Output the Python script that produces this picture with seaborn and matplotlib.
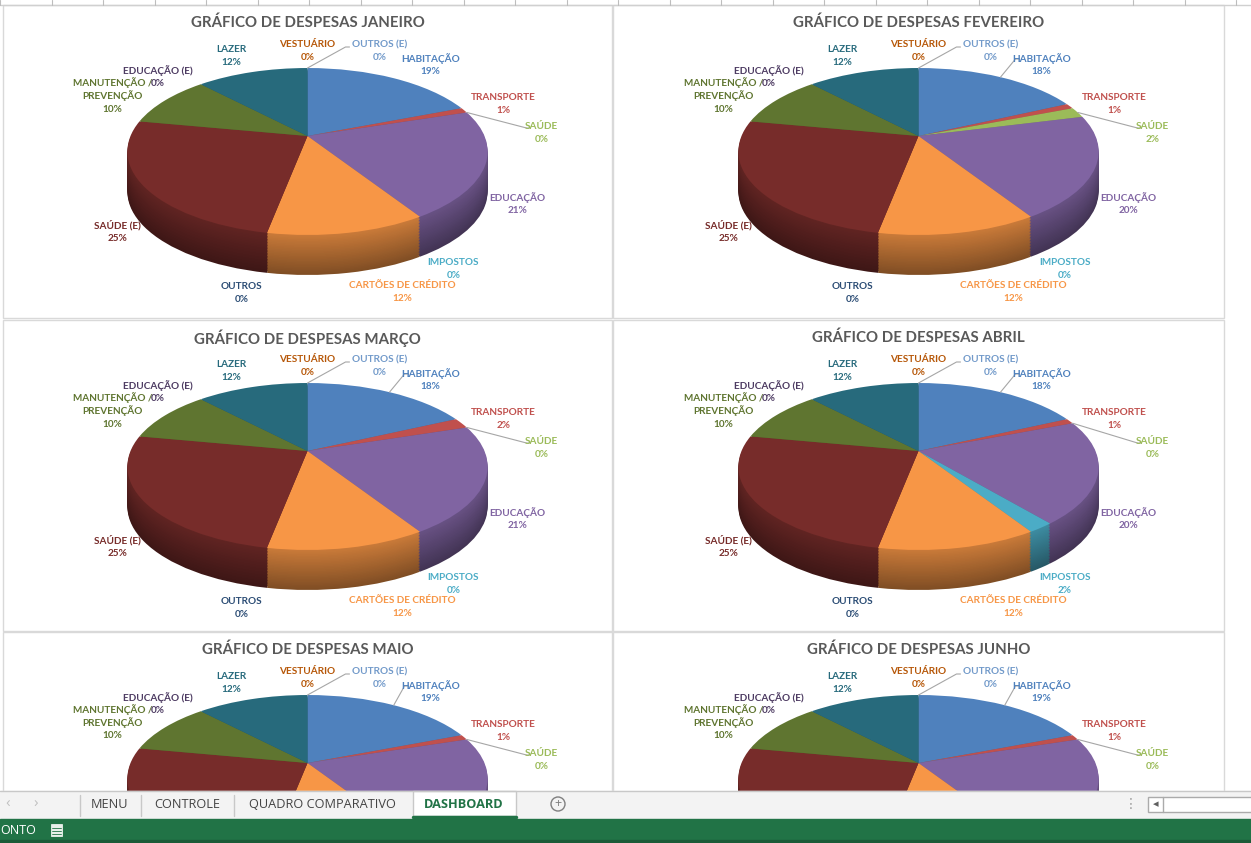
import numpy as np
import pandas as pd
import seaborn as sns
import matplotlib
matplotlib.use("Agg")
import matplotlib.pyplot as plt
from matplotlib import font_manager
from matplotlib.patches import Rectangle, Circle
from matplotlib.transforms import Transform, Affine2D

categorias = ["HABITAÇÃO", "TRANSPORTE", "SAÚDE", "EDUCAÇÃO", "IMPOSTOS",
              "CARTÕES DE CRÉDITO", "OUTROS", "SAÚDE (E)", "MANUTENÇÃO / PREVENÇÃO",
              "EDUCAÇÃO (E)", "LAZER", "VESTUÁRIO", "OUTROS (E)"]
meses = ["JANEIRO", "FEVEREIRO", "MARÇO", "ABRIL", "MAIO", "JUNHO"]
pct_jan = [19, 1, 0, 21, 0, 12, 0, 25, 10, 0, 12, 0, 0]
pct_fev = [18, 1, 2, 20, 0, 12, 0, 25, 10, 0, 12, 0, 0]
pct_mar = [18, 2, 0, 21, 0, 12, 0, 25, 10, 0, 12, 0, 0]
pct_abr = [18, 1, 0, 20, 2, 12, 0, 25, 10, 0, 12, 0, 0]
pct_mai = [19, 1, 0, 21, 0, 12, 0, 25, 10, 0, 12, 0, 0]
pct_jun = [19, 1, 0, 21, 0, 12, 0, 25, 10, 0, 12, 0, 0]
abas = ["MENU", "CONTROLE", "QUADRO COMPARATIVO", "DASHBOARD"]

cores = ["#4F81BD", "#C0504D", "#9BBB59", "#8064A2", "#4BACC6", "#F79646",
         "#2C4D75", "#772C2A", "#5F7530", "#4D3B62", "#276A7C", "#B65708", "#729ACA"]

W, H = 1251, 843
Y_ABAS = 791

sns.set_theme(style="white")
disp = {f.name for f in font_manager.fontManager.ttflist}


def pick(*nomes):
    for n in nomes:
        if n in disp:
            return n
    return "DejaVu Sans"


FONTE = pick("Liberation Sans Narrow", "Lato", "Roboto")
FONTE_UI = pick("Open Sans", "Noto Sans", "DejaVu Sans")
plt.rcParams["font.family"] = [FONTE, "DejaVu Sans"]


class Tilt(Transform):
    # pizza "3D": disco inclinado com um pouco de perspectiva
    input_dims = output_dims = 2
    is_separable = False
    has_inverse = False

    def __init__(self, rx, ry, k):
        super().__init__()
        self.rx, self.ry, self.k = rx, ry, k

    def transform_non_affine(self, values):
        v = np.asarray(values, dtype=float)
        w = 1 + self.k * v[:, 1]
        return np.column_stack([self.rx * v[:, 0] / w, self.ry * v[:, 1] / w])


tilt = Tilt(177, 80.6, 0.1856)
PROF = 40
N_CAMADAS = 26
ENTRELINHA = 13

# posicao dos rotulos em pixels em relacao ao centro da pizza (x, y para baixo)
pos_rotulo = {
    "HABITAÇÃO": (123, -71), "TRANSPORTE": (196, -32), "SAÚDE": (234, -3),
    "EDUCAÇÃO": (210, 68), "IMPOSTOS": (146, 133), "CARTÕES DE CRÉDITO": (95, 156),
    "OUTROS": (-66, 157), "SAÚDE (E)": (-190, 96), "MANUTENÇÃO / PREVENÇÃO": (-195, -40),
    "EDUCAÇÃO (E)": (-150, -59), "LAZER": (-76, -80), "VESTUÁRIO": (0, -85),
    "OUTROS (E)": (72, -85),
}
fim_linha = {"OUTROS (E)": (38, -89), "SAÚDE": (219, -8), "HABITAÇÃO": (97, -77)}


def ponto_fatia(valores, idx):
    v = np.asarray(valores, dtype=float)
    ini = v[:idx].sum() / v.sum() * 360
    meio = ini + v[idx] / v.sum() * 180
    a = np.deg2rad(90 - meio)
    return tilt.transform(np.array([[np.cos(a), np.sin(a)]]))[0]


def desenha_pizza(fig, caixa, mes, valores, n):
    x0, x1, y0, y1 = caixa
    ax = fig.add_axes([x0 / W, 1 - y1 / H, (x1 - x0) / W, (y1 - y0) / H])
    cx = (x0 + x1) / 2
    cy = y0 + 131
    df = pd.DataFrame({"cat": categorias, "pct": valores})
    base = np.array(sns.color_palette(cores))

    for i in range(N_CAMADAS, 0, -1):
        f = 0.52 + 0.3 * (1 - i / N_CAMADAS)
        lado = [tuple(c * f) for c in base]
        fatias, _ = ax.pie(df["pct"], colors=lado, startangle=90, counterclock=False,
                           wedgeprops=dict(linewidth=0))
        tr = tilt + Affine2D().translate(0, -PROF * i / N_CAMADAS) + ax.transData
        for w in fatias:
            w.set_transform(tr)

    fatias, _ = ax.pie(df["pct"], colors=[tuple(c) for c in base], startangle=90,
                       counterclock=False, wedgeprops=dict(linewidth=0))
    for w in fatias:
        w.set_transform(tilt + ax.transData)

    ax.set_aspect("auto")
    ax.set_xlim(x0 - cx, x1 - cx)
    ax.set_ylim(-(y1 - cy), cy - y0)
    ax.axis("off")

    ax.text(0, cy - y0 - 18, "GRÁFICO DE DESPESAS " + mes, ha="center", va="center",
            fontsize=10.8, fontweight="bold", color="#595959")

    for i, row in df.iterrows():
        dx, dy = pos_rotulo[row["cat"]]
        if cy + dy + 14 > Y_ABAS:
            continue  # escondido atras da barra de abas
        linhas_txt = row["cat"].replace(" / ", " /\n").split("\n") + ["%d%%" % row["pct"]]
        k = len(linhas_txt)
        for j, t in enumerate(linhas_txt):
            yy = dy + (j - (k - 1) / 2) * ENTRELINHA
            ax.text(dx, -yy, t, ha="center", va="center", fontsize=7.2,
                    fontweight="bold", color=cores[i])

    for cat, (ex, ey) in fim_linha.items():
        if cat == "HABITAÇÃO" and n == 0:
            continue
        sx, sy = ponto_fatia(valores, categorias.index(cat))
        ax.plot([sx, ex, ex + 4], [sy, -ey, -ey], color="#a6a6a6", lw=0.8)
    return ax


fig = plt.figure(figsize=(W / 100, H / 100), dpi=100)
fundo = fig.add_axes([0, 0, 1, 1])
fundo.set_xlim(0, W)
fundo.set_ylim(H, 0)
fundo.axis("off")
fundo.add_patch(Rectangle((0, 0), W, H, color="white"))

# cabecalho de colunas cortado
fundo.plot([0, W], [4.5, 4.5], color="#d0d0d0", lw=1)
for xc in np.arange(0, W, 51.5):
    fundo.plot([xc, xc], [0, 4.5], color="#bdbdbd", lw=0.8)

colunas = [(3, 612), (613, 1224)]
linhas = [(5, 318), (320, 631), (632, 843)]
todos = [pct_jan, pct_fev, pct_mar, pct_abr, pct_mai, pct_jun]

for n, (mes, vals) in enumerate(zip(meses, todos)):
    c0, c1 = colunas[n % 2]
    r0, r1 = linhas[n // 2]
    fundo.add_patch(Rectangle((c0, r0), c1 - c0, r1 - r0, fill=False,
                              edgecolor="#d9d9d9", lw=1))
    desenha_pizza(fig, (c0, c1, r0, r1), mes, vals, n)

# barra de abas e barra de status
topo = fig.add_axes([0, 0, 1, 1])
topo.set_zorder(10)
topo.set_xlim(0, W)
topo.set_ylim(H, 0)
topo.axis("off")
topo.patch.set_alpha(0)
topo.add_patch(Rectangle((0, Y_ABAS), W, 28, color="#f3f3f3"))
topo.plot([0, W], [Y_ABAS, Y_ABAS], color="#c8c8c8", lw=1)
topo.text(8, 804, "‹", ha="center", va="center", fontsize=11, color="#c0c0c0", family=FONTE_UI)
topo.text(36, 804, "›", ha="center", va="center", fontsize=11, color="#c0c0c0", family=FONTE_UI)
for xs in [80, 141, 234]:
    topo.plot([xs, xs], [795, 816], color="#c8c8c8", lw=1)
topo.add_patch(Rectangle((413, Y_ABAS), 103, 25, facecolor="white", edgecolor="#c8c8c8", lw=1))
topo.plot([413, 516], [816.5, 816.5], color="#217346", lw=2.5)
pos_aba = [110, 187, 322, 464]
for nome, xa in zip(abas, pos_aba):
    ativa = nome == "DASHBOARD"
    topo.text(xa, 804, nome, ha="center", va="center", fontsize=9.2,
              color="#217346" if ativa else "#444444",
              fontweight="bold" if ativa else "normal", family=FONTE_UI)
topo.add_patch(Circle((558, 804), 7, fill=False, edgecolor="#7f7f7f", lw=1))
topo.text(558, 804, "+", ha="center", va="center", fontsize=9, color="#7f7f7f", family=FONTE_UI)
topo.text(1131, 804, "⋮", ha="center", va="center", fontsize=10, color="#a0a0a0", family="DejaVu Sans")
topo.add_patch(Rectangle((1148, 797), 110, 15, facecolor="white", edgecolor="#ababab", lw=1))
topo.plot([1163, 1163], [797, 812], color="#ababab", lw=1)
topo.text(1155.5, 804.5, "◂", ha="center", va="center", fontsize=8, color="#606060", family="DejaVu Sans")

topo.add_patch(Rectangle((0, 819), W, 24, color="#217346"))
topo.add_patch(Rectangle((0, 840), W, 3, color="#1b5b38"))
topo.text(0, 830, "ONTO", ha="left", va="center", fontsize=9, color="white", family=FONTE_UI)
topo.add_patch(Rectangle((51, 824), 11, 12, facecolor="#e8f0ea", edgecolor="white", lw=0.5))
for yy in [828, 831, 834]:
    topo.plot([52, 61], [yy, yy], color="#217346", lw=0.6)

fig.savefig("out.png", dpi=100)
